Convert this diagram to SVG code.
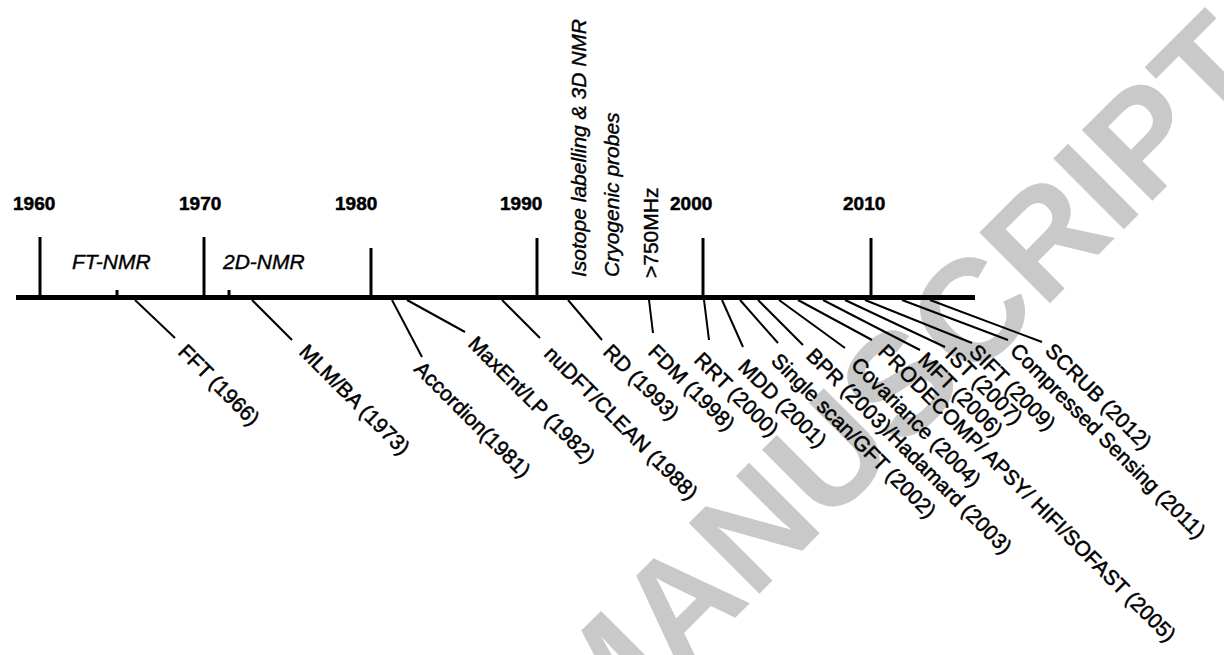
<svg xmlns="http://www.w3.org/2000/svg" width="1224" height="655" viewBox="0 0 1224 655">
<style>
.wm{font-family:"Liberation Sans",Arial,sans-serif;font-weight:bold;font-size:145px;fill:#c9c9c9}
.yr{font-family:"Liberation Sans",Arial,sans-serif;font-weight:bold;font-size:19px;fill:#000;stroke:#000;stroke-width:0.5}
.it{font-family:"Liberation Sans",Arial,sans-serif;font-style:italic;font-size:21px;fill:#000;stroke:#000;stroke-width:0.4}
.up{font-family:"Liberation Sans",Arial,sans-serif;font-size:21px;fill:#000;stroke:#000;stroke-width:0.4}
.lb{font-family:"Liberation Sans",Arial,sans-serif;font-size:21px;fill:#000;stroke:#000;stroke-width:0.5}
.tick{stroke:#000;stroke-width:3;fill:none}
.lead{stroke:#000;stroke-width:2;fill:none}
</style>
<rect width="1224" height="655" fill="#fff"/>
<g id="watermark">
<text class="wm" transform="translate(593,760) rotate(-45)">MANUSCRIPT</text>
</g>
<g id="axis">
<rect x="16" y="295" width="959" height="5" fill="#000"/>
<line class="tick" x1="40" y1="237" x2="40" y2="296"/>
<line class="tick" x1="204" y1="237" x2="204" y2="296"/>
<line class="tick" x1="371" y1="248" x2="371" y2="296"/>
<line class="tick" x1="537" y1="238" x2="537" y2="296"/>
<line class="tick" x1="703" y1="238" x2="703" y2="296" stroke-width="3.5"/>
<line class="tick" x1="871" y1="238" x2="871" y2="296"/>
<line class="tick" x1="117" y1="290" x2="117" y2="296" stroke-width="2.5"/>
<line class="tick" x1="229" y1="290" x2="229" y2="296" stroke-width="2.5"/>
</g>
<g id="years">
<text class="yr" x="13" y="210">1960</text>
<text class="yr" x="179" y="210">1970</text>
<text class="yr" x="335" y="210">1980</text>
<text class="yr" x="500" y="210">1990</text>
<text class="yr" x="670" y="210">2000</text>
<text class="yr" x="843" y="210">2010</text>
</g>
<g id="eras">
<text class="it" x="72" y="269">FT-NMR</text>
<text class="it" x="223" y="269">2D-NMR</text>
</g>
<g id="milestones">
<text class="it" transform="translate(586,277) rotate(-90)">Isotope labelling &amp; 3D NMR</text>
<text class="it" transform="translate(619,277) rotate(-90)">Cryogenic probes</text>
<text class="up" transform="translate(658,278) rotate(-90)">&gt;750MHz</text>
</g>
<g id="connectors">
<line class="lead" x1="135" y1="300" x2="175" y2="338"/>
<line class="lead" x1="252" y1="300" x2="292" y2="340"/>
<line class="lead" x1="392" y1="300" x2="422" y2="357"/>
<line class="lead" x1="407" y1="300" x2="465" y2="332"/>
<line class="lead" x1="502" y1="300" x2="540" y2="338"/>
<line class="lead" x1="568" y1="300" x2="602" y2="340"/>
<line class="lead" x1="649" y1="300" x2="653" y2="333"/>
<line class="lead" x1="704" y1="300" x2="709" y2="340"/>
<line class="lead" x1="722" y1="300" x2="743" y2="347"/>
<line class="lead" x1="740" y1="300" x2="778" y2="343"/>
<line class="lead" x1="758" y1="300" x2="803" y2="345"/>
<line class="lead" x1="779" y1="300" x2="845" y2="348"/>
<line class="lead" x1="798" y1="300" x2="872" y2="340"/>
<line class="lead" x1="823" y1="300" x2="920" y2="350"/>
<line class="lead" x1="845" y1="300" x2="945" y2="347"/>
<line class="lead" x1="865" y1="300" x2="972" y2="343"/>
<line class="lead" x1="902" y1="300" x2="1008" y2="340"/>
<line class="lead" x1="930" y1="300" x2="1042" y2="342"/>
</g>
<g id="n-fft"><text class="lb" transform="translate(177,353) rotate(45)">FFT (1966)</text></g>
<g id="n-mlm"><text class="lb" transform="translate(298,353) rotate(45)">MLM/BA (1973)</text></g>
<g id="n-accordion"><text class="lb" transform="translate(413,370) rotate(45)">Accordion(1981)</text></g>
<g id="n-maxent"><text class="lb" transform="translate(467,345) rotate(45)">MaxEnt/LP (1982)</text></g>
<g id="n-nudft"><text class="lb" transform="translate(543,355) rotate(45)">nuDFT/CLEAN (1988)</text></g>
<g id="n-rd"><text class="lb" transform="translate(602,353) rotate(45)">RD (1993)</text></g>
<g id="n-fdm"><text class="lb" transform="translate(647,353) rotate(45)">FDM (1998)</text></g>
<g id="n-rrt"><text class="lb" transform="translate(693,361) rotate(45)">RRT (2000)</text></g>
<g id="n-mdd"><text class="lb" transform="translate(737,368) rotate(45)">MDD (2001)</text></g>
<g id="n-single"><text class="lb" transform="translate(770,362) rotate(45)">Single scan/GFT (2002)</text></g>
<g id="n-bpr"><text class="lb" transform="translate(805,357) rotate(45)">BPR (2003)/Hadamard (2003)</text></g>
<g id="n-cov"><text class="lb" transform="translate(850,366) rotate(45)">Covariance (2004)</text></g>
<g id="n-prodecomp"><text class="lb" transform="translate(877,353) rotate(45)">PRODECOMP/ APSY/ HIFI/SOFAST (2005)</text></g>
<g id="n-mft"><text class="lb" transform="translate(917,361) rotate(45)">MFT (2006)</text></g>
<g id="n-ist"><text class="lb" transform="translate(944,356) rotate(45)">IST (2007)</text></g>
<g id="n-sift"><text class="lb" transform="translate(968,353) rotate(45)">SIFT (2009)</text></g>
<g id="n-cs"><text class="lb" transform="translate(1009,352) rotate(45)">Compressed Sensing (2011)</text></g>
<g id="n-scrub"><text class="lb" transform="translate(1044,352) rotate(45)">SCRUB (2012)</text></g>
</svg>
